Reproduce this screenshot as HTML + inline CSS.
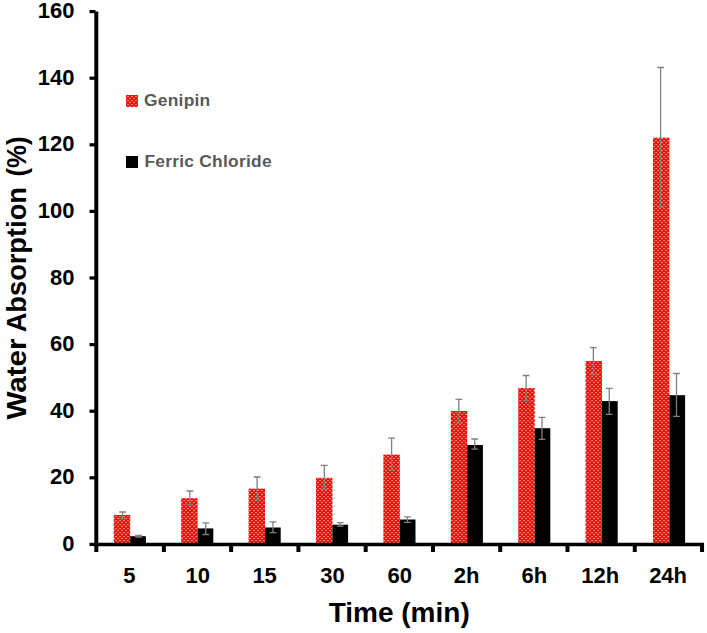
<!DOCTYPE html>
<html><head><meta charset="utf-8"><style>
html,body{margin:0;padding:0;background:#fff;width:707px;height:633px;overflow:hidden}
svg{display:block}
text{font-family:"Liberation Sans",sans-serif;font-weight:bold}
.tl{font-size:22px;fill:#000}
.tt{font-size:28px;fill:#000}
.lg{font-size:17.4px;fill:#595959;letter-spacing:0.25px}
</style></head><body>
<svg width="707" height="633" viewBox="0 0 707 633">
<defs><pattern id="chk" x="-1" y="0" width="4" height="4" patternUnits="userSpaceOnUse">
<rect width="4" height="4" fill="#ff0000"/><rect x="0.2" y="-0.2" width="1.6" height="1.4" fill="#ffa0a0"/><rect x="2.2" y="1.8" width="1.6" height="1.4" fill="#ffa0a0"/></pattern></defs>
<rect x="113.80" y="515.00" width="16.4" height="29.50" fill="url(#chk)"/>
<rect x="130.20" y="536.20" width="15.7" height="8.30" fill="#000"/>
<rect x="181.20" y="498.20" width="16.4" height="46.30" fill="url(#chk)"/>
<rect x="197.60" y="528.40" width="15.7" height="16.10" fill="#000"/>
<rect x="248.60" y="488.60" width="16.4" height="55.90" fill="url(#chk)"/>
<rect x="265.00" y="527.50" width="15.7" height="17.00" fill="#000"/>
<rect x="316.00" y="477.80" width="16.4" height="66.70" fill="url(#chk)"/>
<rect x="332.40" y="524.70" width="15.7" height="19.80" fill="#000"/>
<rect x="383.40" y="454.60" width="16.4" height="89.90" fill="url(#chk)"/>
<rect x="399.80" y="519.50" width="15.7" height="25.00" fill="#000"/>
<rect x="450.80" y="411.00" width="16.4" height="133.50" fill="url(#chk)"/>
<rect x="467.20" y="445.00" width="15.7" height="99.50" fill="#000"/>
<rect x="518.20" y="388.00" width="16.4" height="156.50" fill="url(#chk)"/>
<rect x="534.60" y="428.20" width="15.7" height="116.30" fill="#000"/>
<rect x="585.60" y="361.00" width="16.4" height="183.50" fill="url(#chk)"/>
<rect x="602.00" y="401.10" width="15.7" height="143.40" fill="#000"/>
<rect x="653.00" y="137.70" width="16.4" height="406.80" fill="url(#chk)"/>
<rect x="669.40" y="395.20" width="15.7" height="149.30" fill="#000"/>
<path d="M122.60 512.00V518.50M119.20 512.00H126.00M119.20 518.50H126.00" stroke="#808080" stroke-width="1.3" fill="none"/>
<path d="M138.50 535.30V537.00M135.10 535.30H141.90M135.10 537.00H141.90" stroke="#808080" stroke-width="1.3" fill="none"/>
<path d="M189.85 491.00V504.50M186.45 491.00H193.25M186.45 504.50H193.25" stroke="#808080" stroke-width="1.3" fill="none"/>
<path d="M205.75 522.90V534.50M202.35 522.90H209.15M202.35 534.50H209.15" stroke="#808080" stroke-width="1.3" fill="none"/>
<path d="M257.10 477.00V500.10M253.70 477.00H260.50M253.70 500.10H260.50" stroke="#808080" stroke-width="1.3" fill="none"/>
<path d="M273.00 521.80V532.60M269.60 521.80H276.40M269.60 532.60H276.40" stroke="#808080" stroke-width="1.3" fill="none"/>
<path d="M324.35 465.30V489.10M320.95 465.30H327.75M320.95 489.10H327.75" stroke="#808080" stroke-width="1.3" fill="none"/>
<path d="M340.25 522.60V526.10M336.85 522.60H343.65M336.85 526.10H343.65" stroke="#808080" stroke-width="1.3" fill="none"/>
<path d="M391.60 438.20V470.20M388.20 438.20H395.00M388.20 470.20H395.00" stroke="#808080" stroke-width="1.3" fill="none"/>
<path d="M407.50 516.80V522.30M404.10 516.80H410.90M404.10 522.30H410.90" stroke="#808080" stroke-width="1.3" fill="none"/>
<path d="M458.85 399.40V423.20M455.45 399.40H462.25M455.45 423.20H462.25" stroke="#808080" stroke-width="1.3" fill="none"/>
<path d="M474.75 439.00V449.20M471.35 439.00H478.15M471.35 449.20H478.15" stroke="#808080" stroke-width="1.3" fill="none"/>
<path d="M526.10 375.50V400.40M522.70 375.50H529.50M522.70 400.40H529.50" stroke="#808080" stroke-width="1.3" fill="none"/>
<path d="M542.00 417.30V439.40M538.60 417.30H545.40M538.60 439.40H545.40" stroke="#808080" stroke-width="1.3" fill="none"/>
<path d="M593.35 347.70V374.50M589.95 347.70H596.75M589.95 374.50H596.75" stroke="#808080" stroke-width="1.3" fill="none"/>
<path d="M609.25 388.30V414.40M605.85 388.30H612.65M605.85 414.40H612.65" stroke="#808080" stroke-width="1.3" fill="none"/>
<path d="M660.60 67.50V207.20M657.20 67.50H664.00M657.20 207.20H664.00" stroke="#808080" stroke-width="1.3" fill="none"/>
<path d="M676.50 373.50V416.40M673.10 373.50H679.90M673.10 416.40H679.90" stroke="#808080" stroke-width="1.3" fill="none"/>
<rect x="94.3" y="11.5" width="4" height="540.5" fill="#000"/>
<rect x="94.3" y="542.75" width="609.7" height="3.5" fill="#000"/>
<rect x="89.5" y="542.80" width="6" height="3.2" fill="#000"/>
<rect x="89.5" y="476.20" width="6" height="3.2" fill="#000"/>
<rect x="89.5" y="409.60" width="6" height="3.2" fill="#000"/>
<rect x="89.5" y="343.00" width="6" height="3.2" fill="#000"/>
<rect x="89.5" y="276.40" width="6" height="3.2" fill="#000"/>
<rect x="89.5" y="209.80" width="6" height="3.2" fill="#000"/>
<rect x="89.5" y="143.20" width="6" height="3.2" fill="#000"/>
<rect x="89.5" y="76.60" width="6" height="3.2" fill="#000"/>
<rect x="89.5" y="10.00" width="6" height="3.2" fill="#000"/>
<rect x="161.87" y="544.50" width="4" height="7.50" fill="#000"/>
<rect x="229.14" y="544.50" width="4" height="7.50" fill="#000"/>
<rect x="296.41" y="544.50" width="4" height="7.50" fill="#000"/>
<rect x="363.68" y="544.50" width="4" height="7.50" fill="#000"/>
<rect x="430.95" y="544.50" width="4" height="7.50" fill="#000"/>
<rect x="498.22" y="544.50" width="4" height="7.50" fill="#000"/>
<rect x="565.49" y="544.50" width="4" height="7.50" fill="#000"/>
<rect x="632.76" y="544.50" width="4" height="7.50" fill="#000"/>
<rect x="700.03" y="544.50" width="4" height="7.50" fill="#000"/>
<text x="74.5" y="550.90" text-anchor="end" class="tl">0</text>
<text x="74.5" y="484.30" text-anchor="end" class="tl">20</text>
<text x="74.5" y="417.70" text-anchor="end" class="tl">40</text>
<text x="74.5" y="351.10" text-anchor="end" class="tl">60</text>
<text x="74.5" y="284.50" text-anchor="end" class="tl">80</text>
<text x="74.5" y="217.90" text-anchor="end" class="tl">100</text>
<text x="74.5" y="151.30" text-anchor="end" class="tl">120</text>
<text x="74.5" y="84.70" text-anchor="end" class="tl">140</text>
<text x="74.5" y="18.10" text-anchor="end" class="tl">160</text>
<text x="129.47" y="583" text-anchor="middle" class="tl">5</text>
<text x="197.80" y="583" text-anchor="middle" class="tl">10</text>
<text x="264.62" y="583" text-anchor="middle" class="tl">15</text>
<text x="332.45" y="583" text-anchor="middle" class="tl">30</text>
<text x="399.79" y="583" text-anchor="middle" class="tl">60</text>
<text x="466.62" y="583" text-anchor="middle" class="tl">2h</text>
<text x="534.44" y="583" text-anchor="middle" class="tl">6h</text>
<text x="600.27" y="583" text-anchor="middle" class="tl">12h</text>
<text x="668.10" y="583" text-anchor="middle" class="tl">24h</text>
<text x="399.2" y="621.7" text-anchor="middle" class="tt">Time (min)</text>
<text transform="translate(25.6,419.6) rotate(-90) scale(1.057,1)" class="tt">Water</text>
<text transform="translate(25.6,332.3) rotate(-90) scale(0.973,1)" class="tt">Absorption</text>
<text transform="translate(25.6,176.6) rotate(-90) scale(0.924,1)" class="tt">(%)</text>
<rect x="126" y="95" width="12" height="12" fill="url(#chk)"/>
<rect x="126" y="156" width="12" height="12" fill="#000"/>
<text x="144" y="106.2" class="lg">Genipin</text>
<text x="144.4" y="167" class="lg">Ferric Chloride</text>
</svg>
</body></html>
